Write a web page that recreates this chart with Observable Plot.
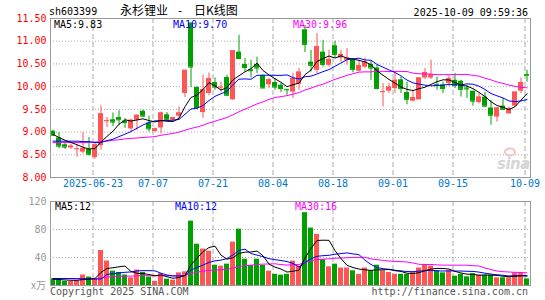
<!DOCTYPE html>
<html><head><meta charset="utf-8">
<script src="https://cdn.jsdelivr.net/npm/d3@7"></script>
<script src="https://cdn.jsdelivr.net/npm/@observablehq/plot@0.6"></script>
<style>
body{margin:0;background:#fff;}
#wrap{position:relative;width:545px;height:300px;overflow:hidden;}
#wrap svg{position:absolute;left:0;}
</style></head><body><div id="wrap"></div>
<script>
// ---- data ----
const tickIndex  = [7, 17, 27, 37, 47, 57, 67, 79];
const tickLabels = ["2025-06-23","07-07","07-21","08-04","08-18","09-01","09-15","10-09"];
const priceTicks = [8, 8.5, 9, 9.5, 10, 10.5, 11, 11.5];
const priceGrid  = [8.5, 9, 9.5, 10, 10.5, 11];
const volTicks   = [40, 80, 120];
const volGrid    = [40, 80];

const opens = [9.02,8.87,8.72,8.65,8.62,8.56,8.62,8.44,8.70,9.23,
 9.27,9.32,9.24,9.07,9.26,9.46,9.20,9.01,9.09,9.38,
 9.26,9.35,9.85,11.40,9.98,9.43,9.85,10.09,9.98,10.20,
 9.71,10.76,10.49,10.37,10.49,10.24,10.04,10.09,10.03,9.94,
 9.88,10.05,11.25,10.54,10.36,10.76,10.47,10.90,10.63,10.58,
 10.60,10.34,10.43,10.49,10.41,9.87,9.90,9.96,10.15,9.87,
 9.68,9.71,10.19,10.19,10.05,10.04,10.07,10.14,10.12,9.97,
 9.90,9.65,9.77,9.53,9.33,9.57,9.40,9.57,9.90,10.27];
const highs = [9.04,8.99,8.78,8.73,8.72,8.99,8.88,8.75,9.58,9.32,
 9.42,9.47,9.30,9.29,9.38,9.48,9.35,9.09,9.44,9.43,
 9.33,9.55,10.36,11.40,10.00,10.25,10.30,10.19,10.10,10.25,
 10.79,11.13,10.62,10.58,10.65,10.25,10.18,10.18,10.07,9.94,
 10.29,10.40,11.35,10.80,11.17,11.02,10.80,11.00,10.80,10.84,
 10.62,10.58,10.63,10.56,10.47,10.07,10.07,10.32,10.21,10.10,
 9.92,10.19,10.40,10.58,10.21,10.10,10.24,10.29,10.14,10.03,
 9.90,9.85,9.88,9.70,9.53,9.74,9.55,9.88,10.19,10.36];
const lows = [8.90,8.64,8.62,8.62,8.45,8.52,8.47,8.40,8.60,9.10,
 9.12,9.14,9.08,9.01,9.04,9.33,9.00,9.00,8.96,9.26,
 9.24,9.29,9.76,9.98,9.50,9.30,9.80,9.92,9.88,9.79,
 9.70,10.60,10.32,10.19,10.29,9.96,9.96,9.92,9.87,9.81,
 9.74,9.92,10.75,10.32,10.29,10.43,10.43,10.63,10.54,10.47,
 10.31,10.32,10.40,10.14,9.94,9.55,9.85,9.85,9.85,9.60,
 9.66,9.71,10.16,10.16,9.92,9.85,10.00,9.96,9.77,9.74,
 9.57,9.62,9.55,9.15,9.22,9.48,9.40,9.55,9.85,10.10];
const closes = [8.93,8.69,8.67,8.69,8.63,8.64,8.51,8.72,9.40,9.25,
 9.22,9.27,9.21,9.26,9.37,9.35,9.07,9.07,9.42,9.28,
 9.32,9.42,10.36,10.43,9.54,9.93,10.18,9.99,9.99,9.81,
 10.79,10.62,10.42,10.35,10.41,9.97,10.15,9.99,9.96,9.93,
 10.18,10.32,10.93,10.47,10.88,10.49,10.60,10.71,10.71,10.63,
 10.38,10.46,10.54,10.41,9.96,9.89,9.99,10.14,9.96,9.72,
 9.76,10.19,10.31,10.26,10.03,9.96,10.18,10.03,9.94,9.95,
 9.68,9.77,9.57,9.37,9.53,9.50,9.51,9.88,10.09,10.25];
const volumes = [9.5,8.6,6,6,7,15,12,9.5,50,35,
 20.5,18.6,15,11,22,18.6,12,6,17,9,
 7.6,18,19.5,92,59,52,49,29,27.6,30.5,
 62,80.5,37.6,28.6,37.6,28.6,20.5,16,14.8,16,
 34.8,27.6,104,82,73,37,26.7,30.5,25,25,
 21,16,25,21,29,21,18.6,16,16,16,
 18.6,25,30,27.6,21,18,21,13.3,16,12.4,
 17,14.8,14.8,14.8,11,11,11,18,18,9.5];

// moving-average values before a full window exists
const ma5Head  = [8.95,8.88,8.82,8.77];
const ma10Head = [8.80,8.80,8.80,8.80,8.80,8.79,8.79,8.77,8.77];
const ma30Head = [8.77,8.77,8.77,8.77,8.77,8.77,8.77,8.78,8.79,8.80,8.82,8.83,8.85,8.86,8.87,
 8.88,8.89,8.90,8.93,8.95,8.97,9.00,9.04,9.08,9.11,9.15,9.20,9.24,9.28];
const vma5Head  = [9,8.5,8,7.5];
const vma10Head = [10,10,10,9.8,9.6,9.5,9.3,9.2,9.2];
const vma30Head = [10,10,10,10,10,10,10,10,11,12,12.5,13,13.3,13.5,13.8,
 14,14,13.8,14,14,13.8,14,14.5,17,19,20.5,21.5,22,22.5];

const titleCode = "sh603399";
const titleName = "永杉锂业";
const titleKind = "日K线图";
const stamp = "2025-10-09 09:59:36";
const priceMaLabels = ["MA5:9.83","MA10:9.70","MA30:9.96"];
const volMaLabels   = ["MA5:12","MA10:12","MA30:16"];
const volUnit = "x万";
const footLeft = "Copyright 2025 SINA.COM";
const footRight = "http://finance.sina.com.cn";

// ---- drawing ----
const W = 545;
const UP = "#ff5555", DN = "#00a000";
const C5 = "#000000", C10 = "#0000ff", C30 = "#ff00ff";
const mono = "'DejaVu Sans Mono','Liberation Mono',monospace";
const rows = closes.map((c, i) => ({i, o: opens[i], h: highs[i], l: lows[i], c, v: volumes[i], up: c >= opens[i]}));
const upRows = rows.filter(d => d.up), dnRows = rows.filter(d => !d.up);
const bx1 = d => d.i, bx2 = d => d.i + 5/6, cx = d => d.i + 2.5/6, gx = d => d + 0.5/6;
const headed = head => vals => vals.length <= head.length ? head[vals.length - 1] : d3.mean(vals);
const maLine = (k, head, field, stroke) =>
  Plot.lineY(rows, Plot.windowY({k, anchor: "end", reduce: headed(head)}, {x: cx, y: field, stroke, strokeWidth: 1}));

const candles = (set, fill) => [
  Plot.ruleX(set, {x: cx, y1: "l", y2: "h", stroke: fill, strokeWidth: 1}),
  Plot.rectY(set, {x1: bx1, x2: bx2, y1: "o", y2: "c", fill}),
  Plot.ruleY(set, {x1: bx1, x2: bx2, y: "c", stroke: fill, strokeWidth: 1})
];

const price = Plot.plot({
  width: W, height: 190, marginLeft: 50, marginRight: 15, marginTop: 18, marginBottom: 13,
  style: {fontFamily: mono, fontSize: "10px", background: "transparent", overflow: "visible"},
  x: {domain: [0, 80], axis: null},
  y: {domain: [8, 11.5], axis: null},
  marks: [
    Plot.ruleY(priceGrid, {stroke: "#aaa", strokeDasharray: "1,2"}),
    Plot.ruleX(tickIndex, {x: gx, stroke: "#aaa", strokeDasharray: "5,3"}),
    Plot.axisY({ticks: priceTicks, tickFormat: d3.format(".2f"), tickSize: 0, tickPadding: 4, color: "#f00", label: null}),
    Plot.text(tickIndex, {x: gx, text: (d, i) => tickLabels[i], frameAnchor: "bottom", dy: 9, fill: "#0078c8"}),
    ...candles(upRows, UP),
    ...candles(dnRows, DN),
    maLine(30, ma30Head, "c", C30),
    maLine(10, ma10Head, "c", C10),
    maLine(5, ma5Head, "c", C5),
    Plot.frame({stroke: "#999"})
  ]
});

const volume = Plot.plot({
  width: W, height: 110, marginLeft: 50, marginRight: 15, marginTop: 11, marginBottom: 15,
  style: {fontFamily: mono, fontSize: "10px", background: "transparent", overflow: "visible"},
  x: {domain: [0, 80], axis: null},
  y: {domain: [0, 120], range: [95, 11], axis: null},
  marks: [
    Plot.ruleY(volGrid, {stroke: "#aaa", strokeDasharray: "1,2"}),
    Plot.ruleX(tickIndex, {x: gx, stroke: "#aaa", strokeDasharray: "5,3"}),
    Plot.axisY({ticks: volTicks, tickSize: 0, tickPadding: 4, color: "#999", label: null}),
    Plot.rectY(upRows, {x1: bx1, x2: bx2, y1: d => 0, y2: "v", fill: UP}),
    Plot.rectY(dnRows, {x1: bx1, x2: bx2, y1: d => 0, y2: "v", fill: DN}),
    maLine(30, vma30Head, "v", C30),
    maLine(10, vma10Head, "v", C10),
    maLine(5, vma5Head, "v", C5),
    Plot.frame({stroke: "#999"})
  ]
});

const wrap = document.getElementById("wrap");
price.style.top = "0px";
volume.style.top = "190px";
wrap.appendChild(price);
wrap.appendChild(volume);

// text overlay
const ov = d3.select(wrap).append("svg").attr("width", W).attr("height", 300)
  .style("top", "0px").style("font-family", mono).style("font-size", "10px");
const t = (x, y, s, fill, anchor = "start", extra = {}) => {
  const e = ov.append("text").attr("x", x).attr("y", y).attr("fill", fill).attr("text-anchor", anchor).text(s);
  for (const k in extra) e.style(k, extra[k]);
  return e;
};
const cjk = {"font-family": "'Noto Sans CJK SC',sans-serif", "font-size": "12px"};
t(49, 15, titleCode, "#000");
t(120, 15, titleName, "#000", "start", cjk);
t(180, 15, "-", "#000", "middle", cjk);
t(194, 15, titleKind, "#000", "start", cjk);
t(528, 15.5, stamp, "#000", "end");
[[54, C5], [173, C10], [293, C30]].forEach(([x, c], i) => t(x, 28, priceMaLabels[i], c));
[[55, C5], [175, C10], [295, C30]].forEach(([x, c], i) => t(x, 209.5, volMaLabels[i], c));
t(46, 289, volUnit, "#999", "end", {"font-family": "'Noto Sans CJK SC',sans-serif", "font-size": "10px"});
t(50, 295, footLeft, "#555");
t(528, 295, footRight, "#555", "end");
// watermark
t(497, 169, "sina", "#d6d6d6", "start", {"font-family": "'DejaVu Sans',sans-serif", "font-size": "15px", "font-style": "italic", "font-weight": "bold", "letter-spacing": "-0.5px"});
ov.append("ellipse").attr("cx", 510).attr("cy", 152).attr("rx", 5).attr("ry", 3.5).attr("fill", "none").attr("stroke", "#f4c4c4").attr("stroke-width", 2);
</script></body></html>
